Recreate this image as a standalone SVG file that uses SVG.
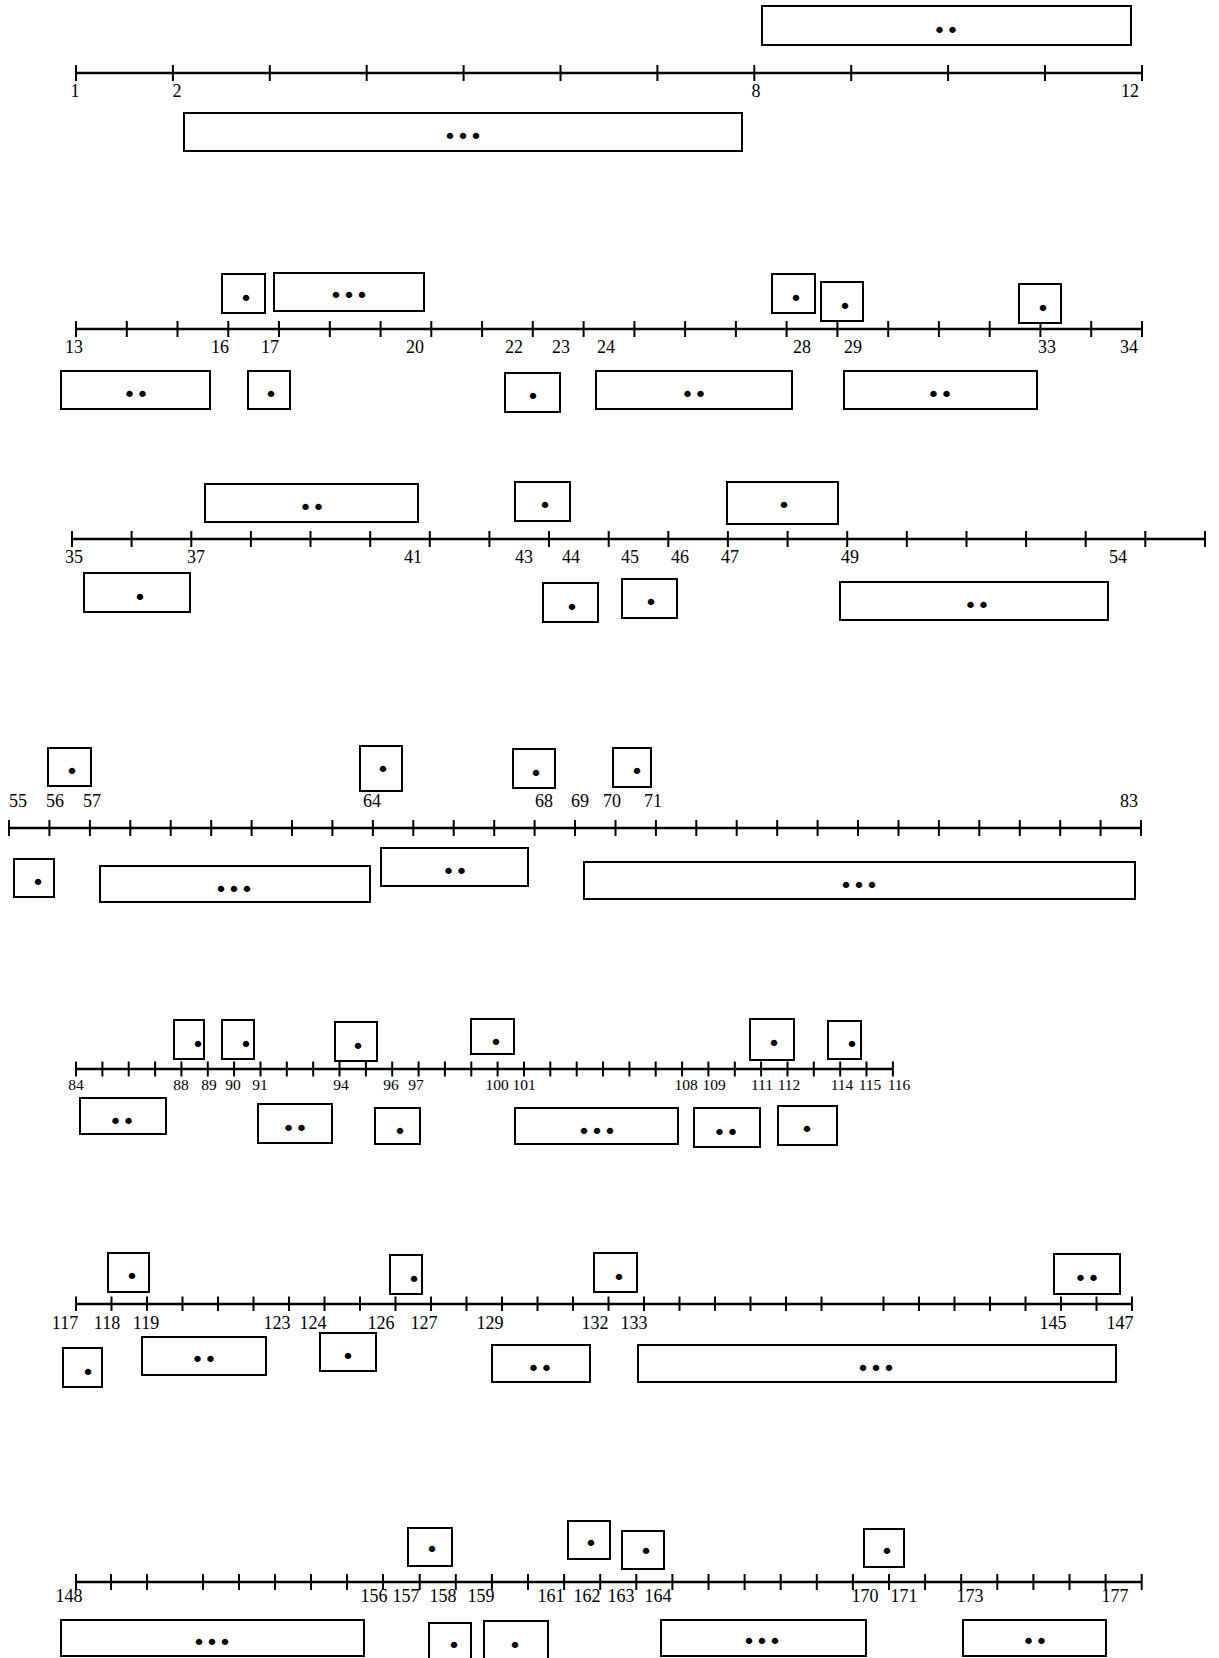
<svg xmlns="http://www.w3.org/2000/svg" width="1219" height="1658" viewBox="0 0 1219 1658">
<style>
.ax{stroke:#000;stroke-width:2.5;fill:none}
.tk{stroke:#000;stroke-width:2;fill:none}
.bx{fill:#fff;stroke:#000;stroke-width:2}
.lb{font-family:"Liberation Serif","Times New Roman",serif;font-size:18px;text-anchor:middle;fill:#000}
.lbs{font-family:"Liberation Serif","Times New Roman",serif;font-size:15.5px;text-anchor:middle;fill:#000}
.dt{font-family:"DejaVu Sans",sans-serif;font-size:22px;text-anchor:middle;dominant-baseline:central;fill:#000}
</style>
<rect width="1219" height="1658" fill="#fff"/>
<g id="connectors">
<path class="ax" d="M76 73H1142"/>
<path class="tk" d="M76 65V81M172.9 65V81M269.8 65V81M366.7 65V81M463.6 65V81M560.5 65V81M657.4 65V81M754.3 65V81M851.2 65V81M948.1 65V81M1045 65V81M1142 65V81"/>
<path class="ax" d="M76 329H1142"/>
<path class="tk" d="M76 321V337M126.8 321V337M177.5 321V337M228.3 321V337M279 321V337M329.8 321V337M380.6 321V337M431.3 321V337M482.1 321V337M532.8 321V337M583.6 321V337M634.4 321V337M685.1 321V337M735.9 321V337M786.6 321V337M837.4 321V337M888.2 321V337M938.9 321V337M989.7 321V337M1040.4 321V337M1091.2 321V337M1142 321V337"/>
<path class="ax" d="M72 539H1205"/>
<path class="tk" d="M72 531V547M131.6 531V547M191.3 531V547M250.9 531V547M310.5 531V547M370.2 531V547M429.8 531V547M489.4 531V547M549 531V547M608.7 531V547M668.3 531V547M727.9 531V547M787.6 531V547M847.2 531V547M906.8 531V547M966.5 531V547M1026.1 531V547M1085.7 531V547M1145.3 531V547M1205 531V547"/>
<path class="ax" d="M9 828H1141"/>
<path class="tk" d="M9 820V836M49.4 820V836M89.9 820V836M130.3 820V836M170.7 820V836M211.2 820V836M251.6 820V836M292 820V836M332.4 820V836M372.9 820V836M413.3 820V836M453.7 820V836M494.2 820V836M534.6 820V836M575 820V836M615.5 820V836M655.9 820V836M696.3 820V836M736.7 820V836M777.2 820V836M817.6 820V836M858 820V836M898.5 820V836M938.9 820V836M979.3 820V836M1019.8 820V836M1060.2 820V836M1100.6 820V836M1141 820V836"/>
<path class="ax" d="M76 1069H893"/>
<path class="tk" d="M76 1061.5V1076.5M102.4 1061.5V1076.5M128.7 1061.5V1076.5M155.1 1061.5V1076.5M181.4 1061.5V1076.5M207.8 1061.5V1076.5M234.1 1061.5V1076.5M260.5 1061.5V1076.5M286.8 1061.5V1076.5M313.2 1061.5V1076.5M339.5 1061.5V1076.5M365.9 1061.5V1076.5M392.2 1061.5V1076.5M418.6 1061.5V1076.5M444.9 1061.5V1076.5M471.3 1061.5V1076.5M497.6 1061.5V1076.5M524 1061.5V1076.5M550.3 1061.5V1076.5M576.7 1061.5V1076.5M603 1061.5V1076.5M629.4 1061.5V1076.5M655.7 1061.5V1076.5M682.1 1061.5V1076.5M708.4 1061.5V1076.5M734.8 1061.5V1076.5M761.1 1061.5V1076.5M787.5 1061.5V1076.5M813.8 1061.5V1076.5M840.2 1061.5V1076.5M866.5 1061.5V1076.5M892.9 1061.5V1076.5"/>
<path class="ax" d="M76 1304H1132"/>
<path class="tk" d="M76 1296.5V1311M111.5 1296.5V1311M147 1296.5V1311M182.5 1296.5V1311M218 1296.5V1311M253.5 1296.5V1311M289 1296.5V1311M324.5 1296.5V1311M360 1296.5V1311M395.5 1296.5V1311M431 1296.5V1311M466.5 1296.5V1311M502 1296.5V1311M537.5 1296.5V1311M573 1296.5V1311M608.5 1296.5V1311M644 1296.5V1311M679.5 1296.5V1311M715 1296.5V1311M750.5 1296.5V1311M786 1296.5V1311M821.5 1296.5V1311M883.5 1296.5V1311M919 1296.5V1311M954.5 1296.5V1311M990 1296.5V1311M1025.5 1296.5V1311M1061 1296.5V1311M1096.5 1296.5V1311M1132 1296.5V1311"/>
<path class="ax" d="M76 1582H1142"/>
<path class="tk" d="M76 1574V1590M111 1574V1590M147 1574V1590M203 1574V1590M239 1574V1590M275 1574V1590M311 1574V1590M347 1574V1590M383 1574V1590M419.7 1574V1590M455.8 1574V1590M491.9 1574V1590M528 1574V1590M564.1 1574V1590M600.2 1574V1590M636.3 1574V1590M672.4 1574V1590M708.5 1574V1590M744.6 1574V1590M780.7 1574V1590M816.8 1574V1590M852.9 1574V1590M889 1574V1590M925.1 1574V1590M961.2 1574V1590M997.3 1574V1590M1033.4 1574V1590M1069.5 1574V1590M1105.6 1574V1590M1141.7 1574V1590"/>
</g>
<g id="labels">
<text class="lb" x="75" y="97">1</text><text class="lb" x="177" y="97">2</text><text class="lb" x="756" y="97">8</text><text class="lb" x="1130" y="97">12</text>
<text class="lb" x="74" y="353">13</text><text class="lb" x="220" y="353">16</text><text class="lb" x="270" y="353">17</text><text class="lb" x="415" y="353">20</text><text class="lb" x="514" y="353">22</text><text class="lb" x="561" y="353">23</text><text class="lb" x="606" y="353">24</text><text class="lb" x="802" y="353">28</text><text class="lb" x="853" y="353">29</text><text class="lb" x="1047" y="353">33</text><text class="lb" x="1129" y="353">34</text>
<text class="lb" x="74" y="563">35</text><text class="lb" x="196" y="563">37</text><text class="lb" x="413" y="563">41</text><text class="lb" x="524" y="563">43</text><text class="lb" x="571" y="563">44</text><text class="lb" x="630" y="563">45</text><text class="lb" x="680" y="563">46</text><text class="lb" x="730" y="563">47</text><text class="lb" x="850" y="563">49</text><text class="lb" x="1118" y="563">54</text>
<text class="lb" x="18" y="807">55</text><text class="lb" x="55" y="807">56</text><text class="lb" x="92" y="807">57</text><text class="lb" x="372" y="807">64</text><text class="lb" x="544" y="807">68</text><text class="lb" x="580" y="807">69</text><text class="lb" x="612" y="807">70</text><text class="lb" x="653" y="807">71</text><text class="lb" x="1129" y="807">83</text>
<text class="lbs" x="76" y="1090">84</text><text class="lbs" x="181" y="1090">88</text><text class="lbs" x="209" y="1090">89</text><text class="lbs" x="233" y="1090">90</text><text class="lbs" x="260" y="1090">91</text><text class="lbs" x="341" y="1090">94</text><text class="lbs" x="391" y="1090">96</text><text class="lbs" x="416" y="1090">97</text><text class="lbs" x="497" y="1090">100</text><text class="lbs" x="524" y="1090">101</text><text class="lbs" x="686" y="1090">108</text><text class="lbs" x="714" y="1090">109</text><text class="lbs" x="762" y="1090">111</text><text class="lbs" x="789" y="1090">112</text><text class="lbs" x="842" y="1090">114</text><text class="lbs" x="870" y="1090">115</text><text class="lbs" x="899" y="1090">116</text>
<text class="lb" x="65" y="1329">117</text><text class="lb" x="107" y="1329">118</text><text class="lb" x="146" y="1329">119</text><text class="lb" x="277" y="1329">123</text><text class="lb" x="313" y="1329">124</text><text class="lb" x="381" y="1329">126</text><text class="lb" x="424" y="1329">127</text><text class="lb" x="490" y="1329">129</text><text class="lb" x="595" y="1329">132</text><text class="lb" x="634" y="1329">133</text><text class="lb" x="1053" y="1329">145</text><text class="lb" x="1120" y="1329">147</text>
<text class="lb" x="69" y="1602">148</text><text class="lb" x="374" y="1602">156</text><text class="lb" x="406" y="1602">157</text><text class="lb" x="443" y="1602">158</text><text class="lb" x="481" y="1602">159</text><text class="lb" x="551" y="1602">161</text><text class="lb" x="587" y="1602">162</text><text class="lb" x="621" y="1602">163</text><text class="lb" x="658" y="1602">164</text><text class="lb" x="865" y="1602">170</text><text class="lb" x="904" y="1602">171</text><text class="lb" x="970" y="1602">173</text><text class="lb" x="1115" y="1602">177</text>
</g>
<g id="n1a"><rect class="bx" x="762" y="6" width="369" height="39"/><text class="dt" x="946" y="30">••</text></g>
<g id="n1b"><rect class="bx" x="184" y="113" width="558" height="38"/><text class="dt" x="463" y="136">•••</text></g>
<g id="n2a"><rect class="bx" x="222" y="274" width="43" height="39"/><text class="dt" x="246" y="298">•</text></g>
<g id="n2b"><rect class="bx" x="274" y="273" width="150" height="38"/><text class="dt" x="349" y="295">•••</text></g>
<g id="n2c"><rect class="bx" x="772" y="274" width="43" height="39"/><text class="dt" x="796" y="298">•</text></g>
<g id="n2d"><rect class="bx" x="821" y="282" width="42" height="39"/><text class="dt" x="845" y="306">•</text></g>
<g id="n2e"><rect class="bx" x="1019" y="284" width="42" height="39"/><text class="dt" x="1043" y="308">•</text></g>
<g id="n2f"><rect class="bx" x="61" y="371" width="149" height="38"/><text class="dt" x="136" y="394">••</text></g>
<g id="n2g"><rect class="bx" x="248" y="371" width="42" height="38"/><text class="dt" x="271" y="394">•</text></g>
<g id="n2h"><rect class="bx" x="505" y="373" width="55" height="39"/><text class="dt" x="533" y="396">•</text></g>
<g id="n2i"><rect class="bx" x="596" y="371" width="196" height="38"/><text class="dt" x="694" y="394">••</text></g>
<g id="n2j"><rect class="bx" x="844" y="371" width="193" height="38"/><text class="dt" x="940" y="394">••</text></g>
<g id="n3a"><rect class="bx" x="205" y="484" width="213" height="38"/><text class="dt" x="312" y="507">••</text></g>
<g id="n3b"><rect class="bx" x="515" y="482" width="55" height="39"/><text class="dt" x="545" y="505">•</text></g>
<g id="n3c"><rect class="bx" x="727" y="482" width="111" height="42"/><text class="dt" x="784" y="505">•</text></g>
<g id="n3d"><rect class="bx" x="84" y="573" width="106" height="39"/><text class="dt" x="140" y="597">•</text></g>
<g id="n3e"><rect class="bx" x="543" y="583" width="55" height="39"/><text class="dt" x="572" y="607">•</text></g>
<g id="n3f"><rect class="bx" x="622" y="579" width="55" height="39"/><text class="dt" x="651" y="602">•</text></g>
<g id="n3g"><rect class="bx" x="840" y="582" width="268" height="38"/><text class="dt" x="977" y="605">••</text></g>
<g id="n4a"><rect class="bx" x="48" y="748" width="43" height="38"/><text class="dt" x="72" y="771">•</text></g>
<g id="n4b"><rect class="bx" x="360" y="746" width="42" height="45"/><text class="dt" x="383" y="769">•</text></g>
<g id="n4c"><rect class="bx" x="513" y="749" width="42" height="39"/><text class="dt" x="536" y="773">•</text></g>
<g id="n4d"><rect class="bx" x="613" y="748" width="38" height="39"/><text class="dt" x="637" y="771">•</text></g>
<g id="n4e"><rect class="bx" x="14" y="859" width="40" height="38"/><text class="dt" x="38" y="882">•</text></g>
<g id="n4f"><rect class="bx" x="100" y="866" width="270" height="36"/><text class="dt" x="234" y="889">•••</text></g>
<g id="n4g"><rect class="bx" x="381" y="848" width="147" height="38"/><text class="dt" x="455" y="871">••</text></g>
<g id="n4h"><rect class="bx" x="584" y="862" width="551" height="37"/><text class="dt" x="859" y="885">•••</text></g>
<g id="n5a"><rect class="bx" x="174" y="1020" width="30" height="39"/><text class="dt" x="198" y="1044">•</text></g>
<g id="n5b"><rect class="bx" x="222" y="1020" width="32" height="39"/><text class="dt" x="246" y="1044">•</text></g>
<g id="n5c"><rect class="bx" x="335" y="1022" width="42" height="39"/><text class="dt" x="358" y="1046">•</text></g>
<g id="n5d"><rect class="bx" x="471" y="1019" width="43" height="35"/><text class="dt" x="496" y="1042">•</text></g>
<g id="n5e"><rect class="bx" x="750" y="1019" width="44" height="41"/><text class="dt" x="774" y="1043">•</text></g>
<g id="n5f"><rect class="bx" x="828" y="1021" width="33" height="38"/><text class="dt" x="852" y="1044">•</text></g>
<g id="n5g"><rect class="bx" x="80" y="1098" width="86" height="36"/><text class="dt" x="122" y="1121">••</text></g>
<g id="n5h"><rect class="bx" x="258" y="1104" width="74" height="39"/><text class="dt" x="295" y="1128">••</text></g>
<g id="n5i"><rect class="bx" x="375" y="1108" width="45" height="36"/><text class="dt" x="400" y="1131">•</text></g>
<g id="n5j"><rect class="bx" x="515" y="1108" width="163" height="36"/><text class="dt" x="597" y="1131">•••</text></g>
<g id="n5k"><rect class="bx" x="694" y="1108" width="66" height="39"/><text class="dt" x="726" y="1132">••</text></g>
<g id="n5l"><rect class="bx" x="778" y="1106" width="59" height="39"/><text class="dt" x="807" y="1129">•</text></g>
<g id="n6a"><rect class="bx" x="108" y="1253" width="41" height="39"/><text class="dt" x="132" y="1276">•</text></g>
<g id="n6b"><rect class="bx" x="390" y="1255" width="32" height="39"/><text class="dt" x="414" y="1279">•</text></g>
<g id="n6c"><rect class="bx" x="594" y="1253" width="43" height="39"/><text class="dt" x="619" y="1277">•</text></g>
<g id="n6d"><rect class="bx" x="1054" y="1254" width="66" height="40"/><text class="dt" x="1087" y="1278">••</text></g>
<g id="n6e"><rect class="bx" x="63" y="1348" width="39" height="39"/><text class="dt" x="88" y="1372">•</text></g>
<g id="n6f"><rect class="bx" x="142" y="1337" width="124" height="38"/><text class="dt" x="204" y="1359">••</text></g>
<g id="n6g"><rect class="bx" x="320" y="1333" width="56" height="38"/><text class="dt" x="348" y="1356">•</text></g>
<g id="n6h"><rect class="bx" x="492" y="1345" width="98" height="37"/><text class="dt" x="540" y="1368">••</text></g>
<g id="n6i"><rect class="bx" x="638" y="1345" width="478" height="37"/><text class="dt" x="876" y="1368">•••</text></g>
<g id="n7a"><rect class="bx" x="408" y="1528" width="44" height="38"/><text class="dt" x="432" y="1549">•</text></g>
<g id="n7b"><rect class="bx" x="568" y="1521" width="42" height="38"/><text class="dt" x="591" y="1543">•</text></g>
<g id="n7c"><rect class="bx" x="622" y="1531" width="42" height="38"/><text class="dt" x="646" y="1551">•</text></g>
<g id="n7d"><rect class="bx" x="864" y="1529" width="40" height="38"/><text class="dt" x="887" y="1551">•</text></g>
<g id="n7e"><rect class="bx" x="61" y="1620" width="303" height="36"/><text class="dt" x="212" y="1642">•••</text></g>
<g id="n7f"><rect class="bx" x="429" y="1623" width="42" height="40"/><text class="dt" x="454" y="1645">•</text></g>
<g id="n7g"><rect class="bx" x="484" y="1621" width="64" height="42"/><text class="dt" x="515" y="1645">•</text></g>
<g id="n7h"><rect class="bx" x="661" y="1620" width="205" height="36"/><text class="dt" x="762" y="1641">•••</text></g>
<g id="n7i"><rect class="bx" x="963" y="1620" width="143" height="36"/><text class="dt" x="1035" y="1641">••</text></g>
</svg>
